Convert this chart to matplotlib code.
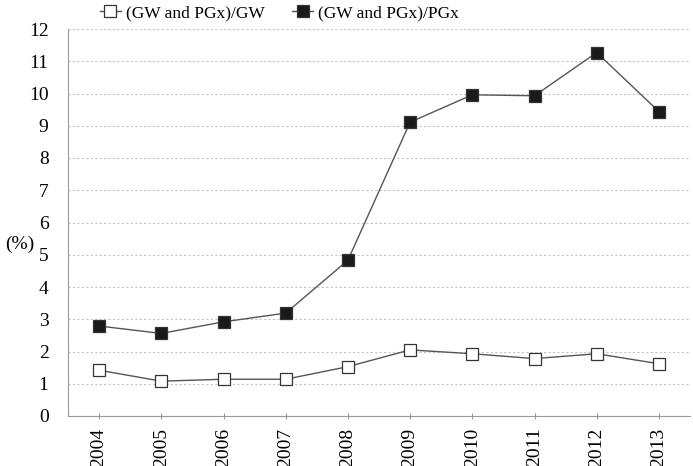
import numpy as np
import matplotlib
matplotlib.use("Agg")
import matplotlib.pyplot as plt

plt.rcParams['font.family'] = ['Liberation Serif', 'DejaVu Serif']

years = ['2004', '2005', '2006', '2007', '2008', '2009', '2010', '2011', '2012', '2013']
gw_ratio = [1.42, 1.08, 1.14, 1.14, 1.53, 2.05, 1.93, 1.78, 1.93, 1.62]
pgx_ratio = [2.79, 2.56, 2.92, 3.19, 4.83, 9.11, 9.96, 9.93, 11.27, 9.44]

fig = plt.figure(figsize=(6.93, 4.66), dpi=100)
ax = fig.add_axes([68 / 693, 50 / 466, 622 / 693, 387 / 466])

x = np.arange(len(years))
ax.plot(x, gw_ratio, color='#555555', lw=1, marker='s', ms=9,
        mfc='white', mec='#333333', mew=0.9, label='(GW and PGx)/GW')
ax.plot(x, pgx_ratio, color='#555555', lw=1, marker='s', ms=9,
        mfc='#1a1a1a', mec='#333333', mew=0.9, label='(GW and PGx)/PGx')

ax.set_xlim(-0.5, len(years) - 0.5)
ax.set_ylim(0, 12)
ax.set_yticks(range(0, 13))
ax.set_xticks(x)
ax.set_xticklabels(years, rotation=90, fontsize=14)
ax.tick_params(axis='y', labelsize=14, length=0, pad=14)
ax.tick_params(axis='x', length=5, color='#999999', direction='inout', pad=6)

ax.yaxis.grid(True, ls=(0, (2, 2)), color='#c4c4c4', lw=0.8)
ax.set_axisbelow(True)
for side in ['top', 'right']:
    ax.spines[side].set_visible(False)
for side in ['left', 'bottom']:
    ax.spines[side].set_color('#999999')

fig.text(20 / 693, 1 - 244 / 466, '(%)', fontsize=14, ha='center', va='center')

ax.legend(loc='lower center', bbox_to_anchor=(0.34, 0.995), ncol=2, frameon=False,
          fontsize=12.5, handlelength=1.2, columnspacing=1.6, handletextpad=0.3,
          borderpad=0.05)

fig.savefig('out.png', dpi=100)
